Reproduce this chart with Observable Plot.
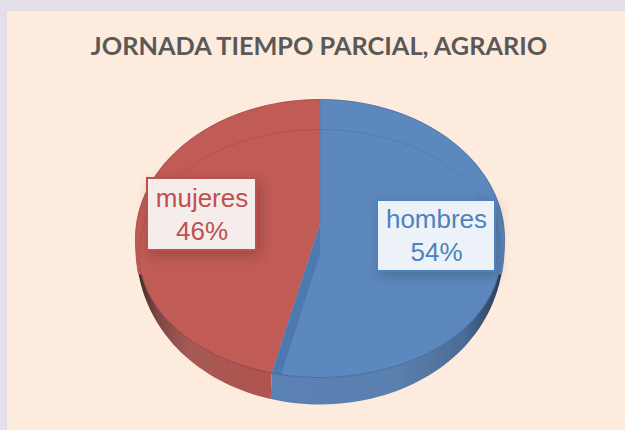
<!DOCTYPE html>
<html><head><meta charset="utf-8">
<script src="https://cdn.jsdelivr.net/npm/d3@7"></script>
<script src="https://cdn.jsdelivr.net/npm/@observablehq/plot@0.6"></script>
<style>
html,body{margin:0;padding:0;background:#E3DFEC;width:625px;height:430px;overflow:hidden}
#panel{position:absolute;left:5px;top:9px;width:620px;height:421px;background:#FDEBDD;border-left:2px solid #E2DFDD;border-top:2px solid #E2DFDD;box-sizing:border-box}
#chart{position:absolute;left:0;top:0}
</style></head><body>
<div id="panel"></div><div id="chart"></div>
<script>
const title = "JORNADA TIEMPO PARCIAL, AGRARIO";
const categories = ["mujeres", "hombres"];
const shares = [45.7, 54.3];

// Chart-space units: the top face's outer ellipse spans -1..1 on both axes.
const lowerOuter = 1.194, rimC = -0.108, rimRy = 0.892, rimRx = 0.981, hub = 0.10, rad = Math.PI / 180;
const cut = 360 - shares[0] / d3.sum(shares) * 360; // clockwise angle from 12 o'clock where the slices meet below
const outer = a => {
  const c = Math.cos(a * rad);
  return {x: Math.sin(a * rad), y: c > 0 ? c : -lowerOuter * Math.pow(-c, 0.9)};
};
const rim = a => ({x: rimRx * Math.sin(a * rad), y: rimC + rimRy * Math.cos(a * rad)});
const sweep = (f, a0, a1, step = 2) => {
  const n = Math.ceil(Math.abs(a1 - a0) / step);
  return d3.range(n + 1).map(i => f(a0 + (a1 - a0) * i / n));
};
const join = 100; // angle where the rim line meets the silhouette
const blueTop = [{x: 0, y: hub}, ...sweep(outer, 0, join), ...sweep(rim, join, cut)];
const redTop = [{x: 0, y: hub}, ...sweep(outer, 360, 360 - join), ...sweep(rim, 360 - join, cut)];
const redWall = [...sweep(rim, cut, 360 - join), ...sweep(outer, 360 - join, cut)];
const blueWall = [...sweep(rim, cut, join), ...sweep(outer, join, cut)];
const band = [{x: 0, y: hub}, {x: 0, y: rimC}, rim(cut - 3.1), rim(cut)];

const X = {domain: [-1, 1], range: [135, 504]};
const Y = {domain: [-1, 1], range: [377, 99]};
const ux = 369 / 2, uy = 278 / 2; // pixels per chart unit, used for label box sizes
const labels = [
  {name: categories[0], share: shares[0], x: (201.5 - 319.5) / ux, y: (238 - 214) / uy, w: 109, h: 72, c: "#C0504D", bg: "#F5EDEB"},
  {name: categories[1], share: shares[1], x: (436 - 319.5) / ux, y: (238 - 235.5) / uy, w: 118, h: 71, c: "#4F81BD", bg: "#EDF2F8"}
];

const defs = () => {
  const d = d3.create("svg:defs");
  const grad = (id, stops) => {
    const g = d.append("linearGradient").attr("id", id).attr("x1", 0).attr("x2", 1).attr("y1", 0).attr("y2", 0);
    stops.forEach(([o, c]) => g.append("stop").attr("offset", o).attr("stop-color", c));
  };
  grad("wallRed", [[0, "#3f2d2b"], [0.14, "#7a4743"], [0.38, "#a65a55"], [1, "#b3524e"]]);
  grad("wallBlue", [[0, "#5a81b4"], [0.55, "#5a80b0"], [0.84, "#4c6b95"], [1, "#2b3c58"]]);
  return d.node();
};
const poly = (data, fill) => Plot.line(data, {x: "x", y: "y", fill, stroke: "none"});
const edge = (data, stroke, w = 1, op = 1) => Plot.line(data, {x: "x", y: "y", stroke, strokeWidth: w, strokeOpacity: op});

const plot = Plot.plot({
  width: 625, height: 430, margin: 0,
  x: {...X, axis: null}, y: {...Y, axis: null},
  style: {background: "transparent", overflow: "visible"},
  marks: [
    defs,
    poly(redWall, "url(#wallRed)"),
    poly(blueWall, "url(#wallBlue)"),
    poly(redTop, "#C05B55"),
    poly(blueTop, "#5C88BD"),
    poly(band, "#4E78B0"),
    edge(sweep(outer, 360, 360 - join), "#9E4340", 1, 0.8),
    edge(sweep(outer, 0, join), "#3F6AA3", 1, 0.8),
    edge(sweep(rim, 360, 360 - join), "#AF4B47", 1, 0.7),
    edge(sweep(rim, 0, join), "#4F78AE", 1, 0.7),
    edge(sweep(rim, 360 - join, cut), "#8E3F3C", 1, 0.9),
    edge(sweep(rim, join, cut), "#3F6AA0", 1, 0.95),
    edge([{x: 0, y: 1}, {x: 0, y: hub}], "#5A78A8", 1, 0.8),
    Plot.text([title], {frameAnchor: "top", dx: 6, dy: 37, text: d => d, fontFamily: "Lato", fontWeight: 700, fontSize: 25.3, fill: "#595959", lineAnchor: "top"}),
    Plot.rect(labels, {
      x1: d => d.x - d.w / 2 / ux, x2: d => d.x + d.w / 2 / ux,
      y1: d => d.y - d.h / 2 / uy, y2: d => d.y + d.h / 2 / uy,
      fill: d => d.bg, stroke: d => d.c, strokeWidth: 2,
      imageFilter: "drop-shadow(3px 4px 6px rgba(0,0,0,0.2))"
    }),
    Plot.text(labels, {x: "x", y: "y", dy: -16, text: "name", fill: d => d.c, fontFamily: "Liberation Sans", fontSize: 26}),
    Plot.text(labels, {x: "x", y: "y", dy: 17, text: d => `${Math.round(d.share)}%`, fill: d => d.c, fontFamily: "Liberation Sans", fontSize: 26})
  ]
});
plot.removeAttribute("font-family");
document.getElementById("chart").append(plot);
</script>
</body></html>
